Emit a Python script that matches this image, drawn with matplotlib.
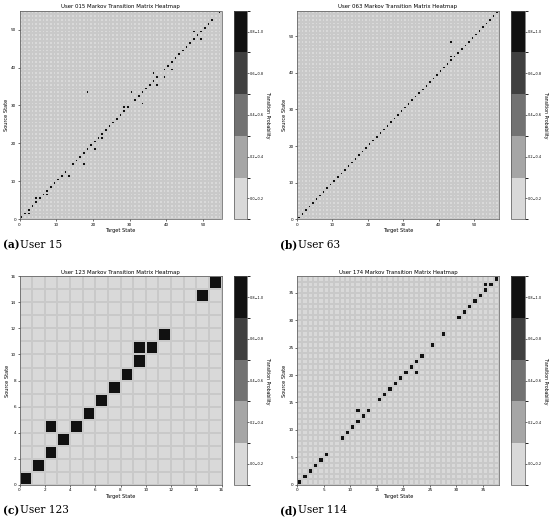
import matplotlib
matplotlib.use("Agg")
import matplotlib.pyplot as plt
from matplotlib.colors import ListedColormap, BoundaryNorm
import numpy as np

# black cells (target, source)
u015_n = 55
u015_cells = [(0, 0), (1, 1), (2, 1), (2, 2), (3, 3), (4, 4), (4, 5), (5, 5),
              (6, 6), (7, 6), (7, 7), (8, 8), (9, 9), (10, 10), (11, 11), (12, 12),
              (13, 11), (14, 14), (15, 15), (16, 16), (17, 17), (17, 14), (18, 18),
              (18, 33), (19, 19), (20, 20), (20, 18), (21, 21), (22, 21), (22, 22),
              (23, 23), (24, 24), (25, 25), (26, 26), (27, 27), (28, 28), (28, 29),
              (29, 29), (30, 33), (31, 31), (32, 32), (33, 33), (33, 30), (34, 34),
              (35, 35), (36, 36), (36, 38), (37, 37), (37, 35), (39, 39), (39, 37),
              (40, 40), (41, 41), (41, 39), (42, 42), (43, 43), (44, 44), (45, 45),
              (46, 46), (47, 47), (47, 49), (48, 48), (49, 49), (49, 47), (50, 50),
              (51, 51), (52, 52), (54, 54)]

u063_n = 57
u063_cells = [(i, i) for i in range(57)] + [(43, 44), (43, 48)]

u123_n = 16
u123_cells = [(0, 0), (1, 1), (2, 2), (3, 3), (2, 4), (4, 4), (5, 5), (6, 6),
              (7, 7), (8, 8), (9, 9), (9, 10), (10, 10), (11, 11), (14, 14), (15, 15)]

u174_n = 38
u174_cells = [(0, 0), (1, 1), (2, 2), (3, 3), (4, 4), (5, 5), (8, 8), (9, 9),
              (10, 10), (11, 11), (11, 13), (12, 12), (13, 13), (15, 15), (16, 16),
              (17, 17), (18, 18), (19, 19), (20, 20), (21, 21), (22, 22), (22, 20),
              (23, 23), (25, 25), (27, 27), (30, 30), (31, 31), (32, 32), (33, 33),
              (34, 34), (35, 35), (35, 36), (36, 36), (37, 37)]

bin_labels = ["0.0\u22120.2", "0.2\u22120.4", "0.4\u22120.6", "0.6\u22120.8", "0.8\u22121.0"]
bin_colors = ["#d9d9d9", "#a6a6a6", "#727272", "#404040", "#111111"]

panels = [
    ("User 015", u015_n, u015_cells, range(0, 51, 10), "(a)", "User 15"),
    ("User 063", u063_n, u063_cells, range(0, 51, 10), "(b)", "User 63"),
    ("User 123", u123_n, u123_cells, range(0, 17, 2), "(c)", "User 123"),
    ("User 174", u174_n, u174_cells, range(0, 36, 5), "(d)", "User 114"),
]

cmap = ListedColormap(bin_colors)
norm = BoundaryNorm([0, 0.2, 0.4, 0.6, 0.8, 1.0], cmap.N)

fig = plt.figure(figsize=(5.5, 5.25), dpi=100)

W, H = 550.0, 525.0
boxes = [(19.5, 10.7), (297, 10.7), (19.5, 276.3), (297, 276.3)]

for (name, n, cells, ticks, tag, cap), (x0, y0) in zip(panels, boxes):
    mat = np.zeros((n, n))
    for t, s in cells:
        mat[s, t] = 1.0

    ax = fig.add_axes([x0 / W, 1 - (y0 + 208.5) / H, 202 / W, 208.5 / H])
    mesh = ax.pcolormesh(np.arange(n + 1), np.arange(n + 1), mat, cmap=cmap, norm=norm,
                         edgecolors="#c9c9c9", linewidth=0.15)
    ax.set_xlim(0, n)
    ax.set_ylim(0, n)
    ax.set_xticks(list(ticks))
    ax.set_yticks(list(ticks))
    ax.tick_params(labelsize=3, length=1.5, width=0.4, pad=1)
    for sp in ax.spines.values():
        sp.set_linewidth(0.5)
        sp.set_color("#555555")
    ax.set_title(name + " Markov Transition Matrix Heatmap", fontsize=3.9, pad=2)
    ax.set_xlabel("Target State", fontsize=3.6, labelpad=1)
    ax.set_ylabel("Source State", fontsize=3.6, labelpad=1)

    cax = fig.add_axes([(x0 + 214) / W, 1 - (y0 + 208.5) / H, 13.5 / W, 208.5 / H])
    cb = fig.colorbar(mesh, cax=cax, ticks=[0.1, 0.3, 0.5, 0.7, 0.9])
    cb.ax.set_yticklabels(bin_labels)
    cb.ax.tick_params(labelsize=2.5, length=1.2, width=0.4, pad=1)
    cb.outline.set_linewidth(0.5)
    cb.outline.set_edgecolor("#555555")
    fig.text((x0 + 248.5) / W, 1 - (y0 + 104) / H, "Transition Probability", fontsize=3.3,
             rotation=270, ha="center", va="center")

    fig.text((x0 - 17) / W, 1 - (y0 + 234) / H, tag, fontsize=7.6, fontweight="bold",
             family="DejaVu Serif", va="center", ha="left")
    fig.text((x0 + 0.5) / W, 1 - (y0 + 234) / H, cap, fontsize=7.6,
             family="DejaVu Serif", va="center", ha="left")

fig.savefig("out.png", dpi=100)
